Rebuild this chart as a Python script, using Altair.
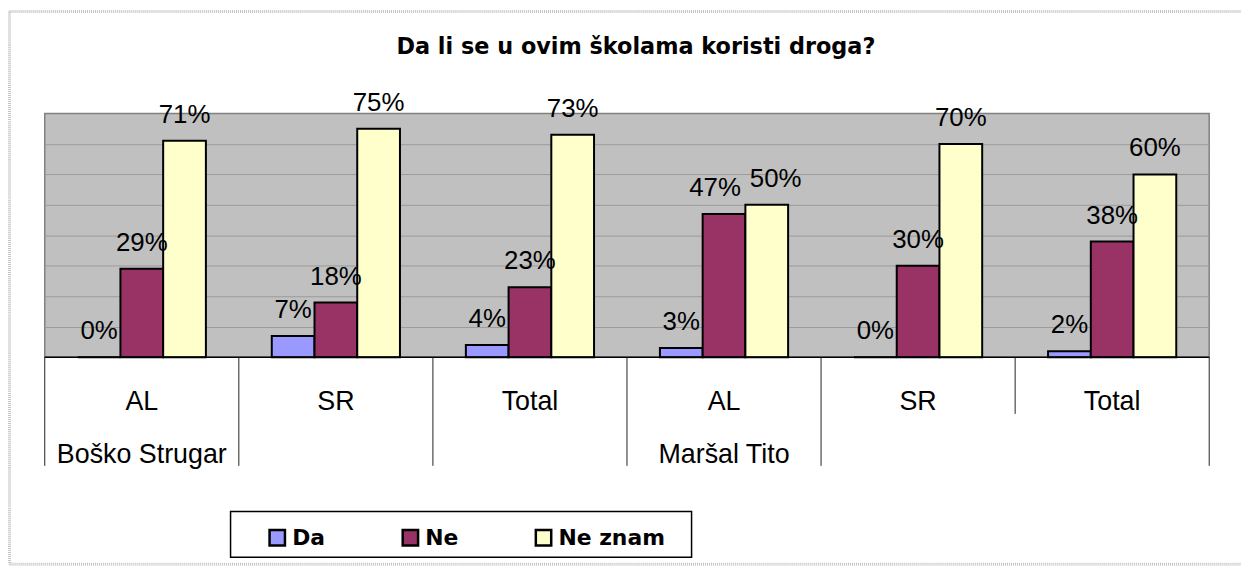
import altair as alt
import pandas as pd

# ---- data ----
title_text = "Da li se u ovim školama koristi droga?"
schools = ["Boško Strugar", "Boško Strugar", "Boško Strugar", "Maršal Tito", "Maršal Tito", "Maršal Tito"]
groups = ["AL", "SR", "Total", "AL", "SR", "Total"]
series = ["Da", "Ne", "Ne znam"]
da = [0, 7, 4, 3, 0, 2]
ne = [29, 18, 23, 47, 30, 38]
ne_znam = [71, 75, 73, 50, 70, 60]
colors = ["#9999FF", "#993366", "#FFFFCC"]

cats = [f"{i}|{s}|{g}" for i, (s, g) in enumerate(zip(schools, groups))]

rows = []
for i, c in enumerate(cats):
    for s, vals in zip(series, [da, ne, ne_znam]):
        rows.append({"cat": c, "series": s, "value": vals[i], "label": f"{vals[i]}%"})
df = pd.DataFrame(rows)

school_lbl = [s if (i == 0 or schools[i - 1] != s) else "" for i, s in enumerate(schools)]
cat_df = pd.DataFrame({"cat": cats, "group": groups, "school": school_lbl})
one = pd.DataFrame({"a": [0]})

W = 1172
H = 245.4

xs = alt.Scale(domain=cats, paddingInner=0, paddingOuter=0)
xo = alt.XOffset("series:N", sort=series,
                 scale=alt.Scale(domain=series, paddingInner=0, paddingOuter=0.771))
ys = alt.Scale(domain=[0, 80], nice=False, zero=True)

base = alt.Chart(df)

bars = base.mark_bar(stroke="black", strokeWidth=2).encode(
    x=alt.X("cat:N", scale=xs, axis=None, sort=cats),
    xOffset=xo,
    y=alt.Y("value:Q", scale=ys,
            axis=alt.Axis(values=[10, 20, 30, 40, 50, 60, 70], labels=False, ticks=False,
                          domain=False, grid=True, gridColor="#9a9a9a", gridWidth=1,
                          title=None)),
    color=alt.Color("series:N", sort=series,
                    scale=alt.Scale(domain=series, range=colors),
                    legend=alt.Legend(orient="none", legendX=223, legendY=416,
                                      direction="horizontal", title=None,
                                      symbolType="square", symbolSize=240,
                                      symbolStrokeColor="black", symbolStrokeWidth=2.5,
                                      symbolOpacity=1,
                                      labelFont="DejaVu Sans", labelFontSize=22,
                                      labelFontWeight="bold", labelColor="black",
                                      labelOffset=4, columnPadding=-7, gridAlign="all",
                                      padding=0)),
)

label_enc = dict(
    x=alt.X("cat:N", scale=xs, axis=None, sort=cats),
    xOffset=xo,
    y=alt.Y("value:Q", scale=ys),
    text="label:N",
)
crowded = (alt.datum.cat == cats[3])
labels = base.transform_filter(~crowded).mark_text(
    font="Liberation Sans", fontSize=26, color="black",
    baseline="alphabetic", dy=-18).encode(**label_enc)
labels_left = base.transform_filter(crowded & (alt.datum.series == series[1])).mark_text(
    font="Liberation Sans", fontSize=26, color="black",
    baseline="alphabetic", dy=-18, dx=-9).encode(**label_enc)
labels_right = base.transform_filter(crowded & (alt.datum.series == series[2])).mark_text(
    font="Liberation Sans", fontSize=26, color="black",
    baseline="alphabetic", dy=-18, dx=9).encode(**label_enc)
labels_da = base.transform_filter(crowded & (alt.datum.series == series[0])).mark_text(
    font="Liberation Sans", fontSize=26, color="black",
    baseline="alphabetic", dy=-18).encode(**label_enc)

bottom_line = alt.Chart(one).mark_rule(color="black", strokeWidth=1.5).encode(
    x=alt.value(0), x2=alt.value(W), y=alt.value(H))

cat_base = alt.Chart(cat_df)
full_lines = cat_base.transform_filter(alt.datum.cat != cats[-1]).mark_rule(
    color="#222222", strokeWidth=1).encode(
    x=alt.X("cat:N", scale=xs, axis=None, sort=cats, bandPosition=0),
    y=alt.value(H), y2=alt.value(H + 109.3))
end_line = cat_base.transform_filter(alt.datum.cat == cats[-1]).mark_rule(
    color="#222222", strokeWidth=1).encode(
    x=alt.X("cat:N", scale=xs, axis=None, sort=cats, bandPosition=1),
    y=alt.value(H), y2=alt.value(H + 109.3))
short_line = cat_base.transform_filter(alt.datum.cat == cats[-1]).mark_rule(
    color="#222222", strokeWidth=1).encode(
    x=alt.X("cat:N", scale=xs, axis=None, sort=cats, bandPosition=0),
    y=alt.value(H), y2=alt.value(H + 57))

group_text = cat_base.mark_text(font="Liberation Sans", fontSize=27, color="black",
                                baseline="alphabetic").encode(
    x=alt.X("cat:N", scale=xs, axis=None, sort=cats),
    y=alt.value(H + 53),
    text="group:N")
school_text = cat_base.mark_text(font="Liberation Sans", fontSize=27, color="black",
                                 baseline="alphabetic").encode(
    x=alt.X("cat:N", scale=xs, axis=None, sort=cats),
    y=alt.value(H + 106),
    text="school:N")

title = alt.Chart(one).mark_text(font="DejaVu Sans", fontSize=22.5, fontWeight="bold",
                                 color="black", baseline="alphabetic", align="center").encode(
    x=alt.value(595), y=alt.value(-60), text=alt.value(title_text))

legend_box = alt.Chart(one).mark_rect(fill="white", stroke="black", strokeWidth=1.5).encode(
    x=alt.value(187), x2=alt.value(651), y=alt.value(400.7), y2=alt.value(446.7))

border_col = "#c4c4c4"
border_left = alt.Chart(one).mark_rule(color=border_col, strokeWidth=3, strokeDash=[1, 1]).encode(
    x=alt.value(-35.5), y=alt.value(-102.5), y2=alt.value(453.7))
border_top = alt.Chart(one).mark_rule(color=border_col, strokeWidth=3, strokeDash=[1, 1]).encode(
    x=alt.value(-35.5), x2=alt.value(1210), y=alt.value(-102.5))
border_bottom = alt.Chart(one).mark_rule(color=border_col, strokeWidth=3, strokeDash=[1, 1]).encode(
    x=alt.value(-35.5), x2=alt.value(1210), y=alt.value(453.7))

chart = alt.layer(
    border_left, border_top, border_bottom,
    bars, labels, labels_da, labels_left, labels_right, bottom_line,
    full_lines, end_line, short_line,
    group_text, school_text, title, legend_box,
).properties(
    width=W, height=H,
    autosize=alt.AutoSizeParams(type="none"),
    padding={"left": 37, "top": 104.3, "right": 32, "bottom": 209.3},
    background="white",
).configure_view(
    fill="#C0C0C0", stroke="#808080", strokeWidth=1.5
)

chart.save("out.html", embed_options={"renderer": "svg", "actions": False})
